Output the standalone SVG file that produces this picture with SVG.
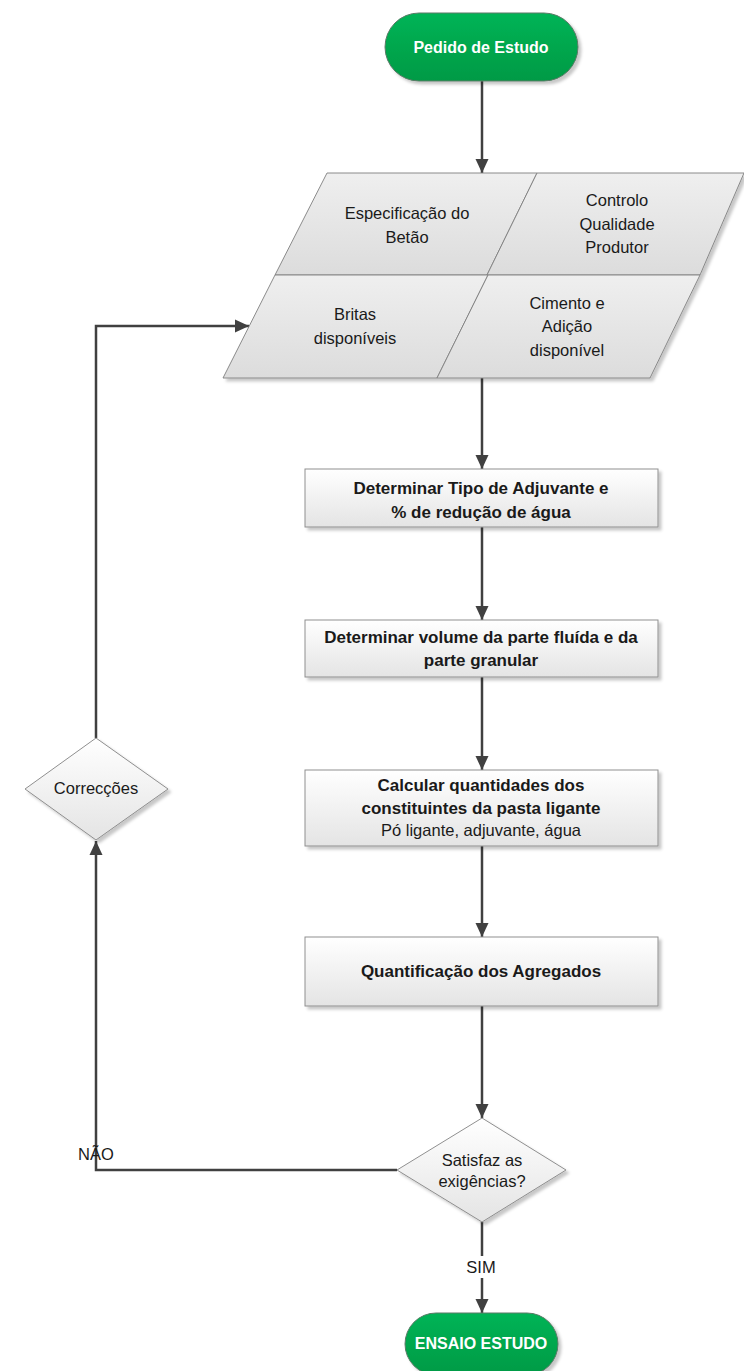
<svg xmlns="http://www.w3.org/2000/svg" width="744" height="1371" viewBox="0 0 744 1371">
<defs>
  <linearGradient id="gGreen" x1="0" y1="0" x2="0" y2="1">
    <stop offset="0" stop-color="#00b456"/>
    <stop offset="1" stop-color="#009a45"/>
  </linearGradient>
  <linearGradient id="gBox" x1="0" y1="0" x2="0" y2="1">
    <stop offset="0" stop-color="#ffffff"/>
    <stop offset="1" stop-color="#e4e4e4"/>
  </linearGradient>
  <linearGradient id="gPar" x1="0" y1="0" x2="0" y2="1">
    <stop offset="0" stop-color="#efefef"/>
    <stop offset="1" stop-color="#dcdcdc"/>
  </linearGradient>
  <filter id="sh" x="-10%" y="-10%" width="130%" height="140%">
    <feDropShadow dx="3" dy="3" stdDeviation="1.5" flood-color="#000" flood-opacity="0.22"/>
  </filter>
  <marker id="arr" viewBox="0 0 14 14" refX="14" refY="7" markerWidth="14" markerHeight="14" markerUnits="userSpaceOnUse" orient="auto">
    <path d="M0,0.5 L14,7 L0,13.5 Z" fill="#404040"/>
  </marker>
  <style>
    .pill{fill:url(#gGreen);stroke:#5a7a66;stroke-width:1;filter:url(#sh)}
    .box{fill:url(#gBox);stroke:#8f8f8f;stroke-width:1;filter:url(#sh)}
    .par{fill:url(#gPar);stroke:#7f7f7f;stroke-width:0.9}
    .dia{fill:url(#gBox);stroke:#8f8f8f;stroke-width:1;filter:url(#sh)}
    .conn{fill:none;stroke:#404040;stroke-width:2.5}
    text{font-family:"Liberation Sans",Arial,sans-serif;font-size:16.5px;fill:#1a1a1a;text-anchor:middle}
    .b{font-weight:bold;font-size:17px}
    .w{fill:#ffffff;font-weight:bold;font-size:16px}
  </style>
</defs>

<g id="connectors">
  <line class="conn" x1="482" y1="81" x2="482" y2="173" marker-end="url(#arr)"/>
  <line class="conn" x1="482" y1="378" x2="482" y2="469" marker-end="url(#arr)"/>
  <line class="conn" x1="482" y1="527" x2="482" y2="620" marker-end="url(#arr)"/>
  <line class="conn" x1="482" y1="677" x2="482" y2="770" marker-end="url(#arr)"/>
  <line class="conn" x1="482" y1="846" x2="482" y2="937" marker-end="url(#arr)"/>
  <line class="conn" x1="482" y1="1006" x2="482" y2="1118" marker-end="url(#arr)"/>
  <polyline class="conn" points="397,1170 96,1170 96,841" marker-end="url(#arr)"/>
  <polyline class="conn" points="96,738 96,326 249,326" marker-end="url(#arr)"/>
  <line class="conn" x1="482" y1="1222" x2="482" y2="1313" marker-end="url(#arr)"/>
  <rect x="464" y="1256" width="36" height="22" fill="#ffffff"/>
  <text x="481" y="1273">SIM</text>
  <text x="96" y="1160">NÃO</text>
</g>

<g id="start">
  <rect class="pill" x="385" y="13" width="193" height="68" rx="34" ry="34"/>
  <text class="w" x="481" y="53">Pedido de Estudo</text>
</g>

<g id="inputs" filter="url(#sh)">
  <polygon class="par" points="327,173 537,173 487,275 275,275"/>
  <polygon class="par" points="537,173 744,173 700,275 487,275"/>
  <polygon class="par" points="275,275 488,275 437,378 223,378"/>
  <polygon class="par" points="488,275 700,275 650,378 437,378"/>
</g>
<g id="in-especificacao">
  <text x="407" y="219">Especificação do</text>
  <text x="407" y="243">Betão</text>
</g>
<g id="in-controlo">
  <text x="617" y="206">Controlo</text>
  <text x="617" y="230">Qualidade</text>
  <text x="617" y="253">Produtor</text>
</g>
<g id="in-britas">
  <text x="355" y="320">Britas</text>
  <text x="355" y="344">disponíveis</text>
</g>
<g id="in-cimento">
  <text x="567" y="309">Cimento e</text>
  <text x="567" y="332">Adição</text>
  <text x="567" y="356">disponível</text>
</g>

<g id="box1">
  <rect class="box" x="305" y="469" width="353" height="58"/>
  <text class="b" x="481" y="494">Determinar Tipo de Adjuvante e</text>
  <text class="b" x="481" y="518">% de redução de água</text>
</g>

<g id="box2">
  <rect class="box" x="305" y="620" width="353" height="57"/>
  <text class="b" x="481" y="643">Determinar volume da parte fluída e da</text>
  <text class="b" x="481" y="666">parte granular</text>
</g>

<g id="box3">
  <rect class="box" x="305" y="770" width="353" height="76"/>
  <text class="b" x="481" y="791">Calcular quantidades dos</text>
  <text class="b" x="481" y="814">constituintes da pasta ligante</text>
  <text x="481" y="836">Pó ligante, adjuvante, água</text>
</g>

<g id="box4">
  <rect class="box" x="305" y="937" width="353" height="69"/>
  <text class="b" x="481" y="977">Quantificação dos Agregados</text>
</g>

<g id="correccoes">
  <polygon class="dia" points="96,738 168,789 96,840 25,789"/>
  <text x="96" y="794">Correcções</text>
</g>

<g id="decision">
  <polygon class="dia" points="482,1118 566,1170 482,1222 397,1170"/>
  <text x="482" y="1166">Satisfaz as</text>
  <text x="482" y="1187">exigências?</text>
</g>

<g id="end">
  <rect class="pill" x="405" y="1313" width="153" height="62" rx="31" ry="31"/>
  <text class="w" x="481" y="1349">ENSAIO ESTUDO</text>
</g>
</svg>
